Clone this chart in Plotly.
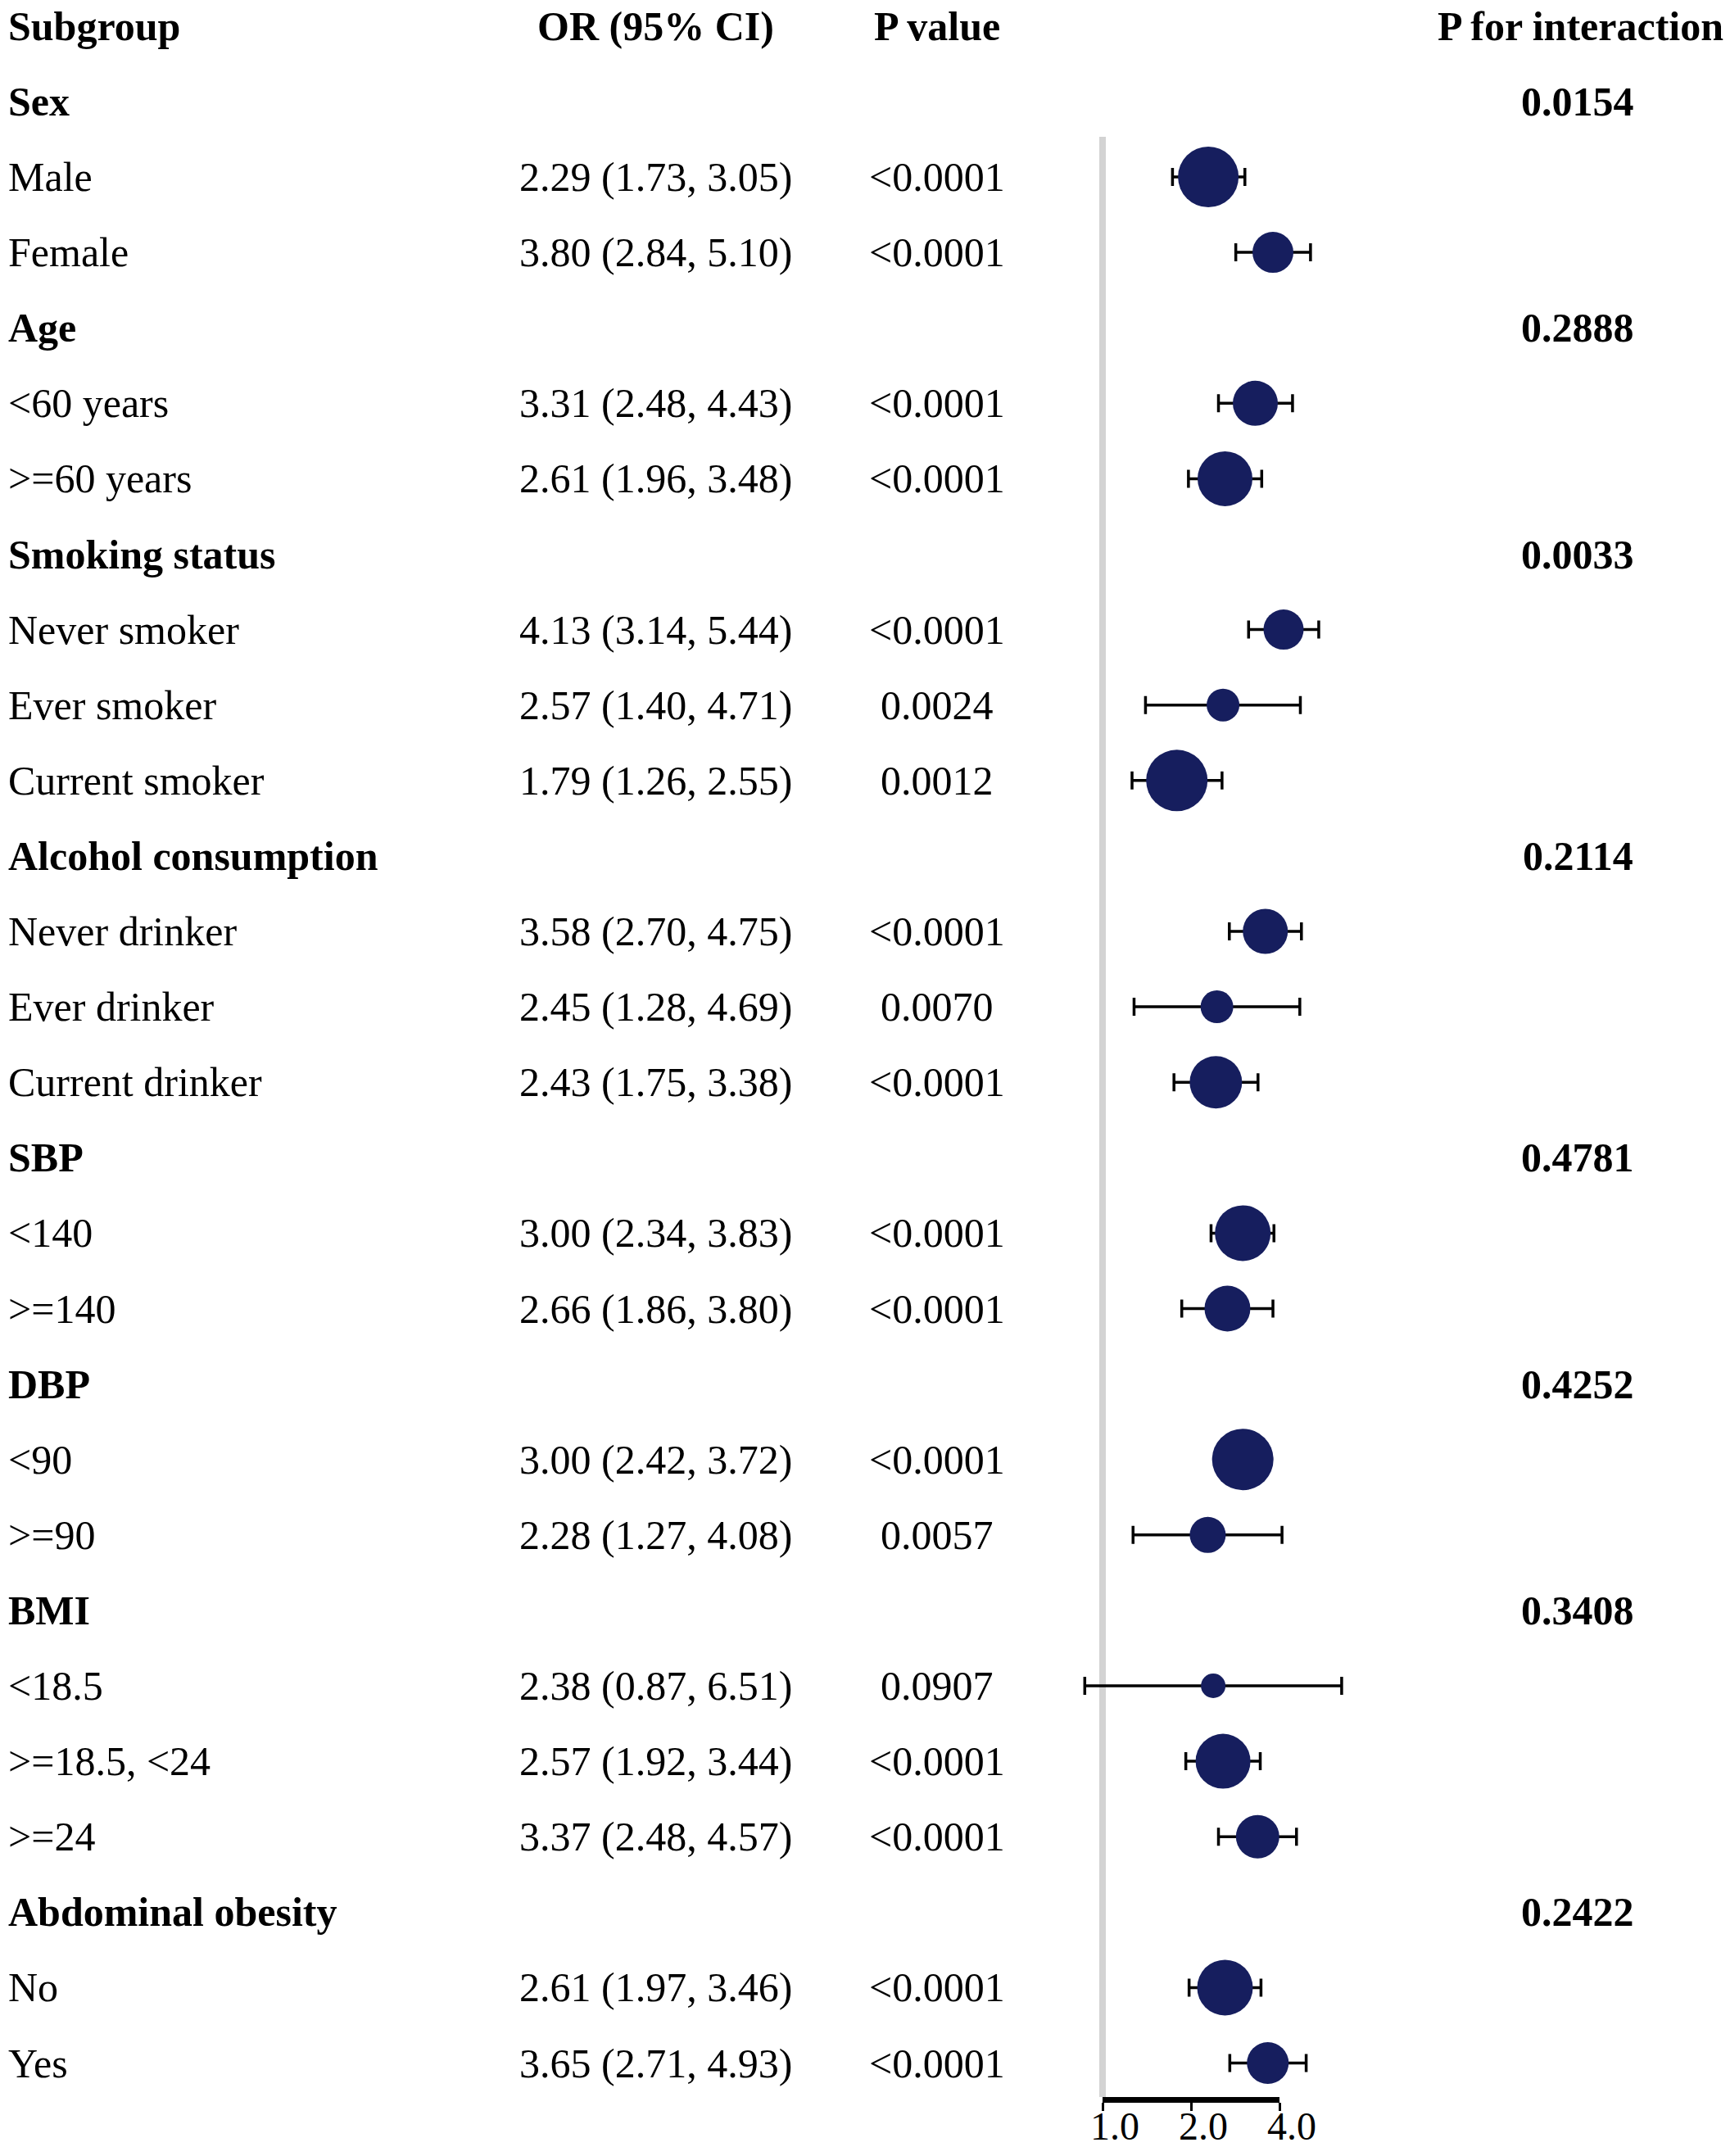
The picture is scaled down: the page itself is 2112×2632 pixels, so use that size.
import math
import plotly.graph_objects as go

# ---------------- data ----------------
labels = ["Sex", "Male", "Female",
          "Age", "<60 years", ">=60 years",
          "Smoking status", "Never smoker", "Ever smoker", "Current smoker",
          "Alcohol consumption", "Never drinker", "Ever drinker", "Current drinker",
          "SBP", "<140", ">=140",
          "DBP", "<90", ">=90",
          "BMI", "<18.5", ">=18.5, <24", ">=24",
          "Abdominal obesity", "No", "Yes"]
is_group = [True, False, False,
            True, False, False,
            True, False, False, False,
            True, False, False, False,
            True, False, False,
            True, False, False,
            True, False, False, False,
            True, False, False]
or_vals = [None, 2.29, 3.80,
           None, 3.31, 2.61,
           None, 4.13, 2.57, 1.79,
           None, 3.58, 2.45, 2.43,
           None, 3.00, 2.66,
           None, 3.00, 2.28,
           None, 2.38, 2.57, 3.37,
           None, 2.61, 3.65]
ci_low = [None, 1.73, 2.84,
          None, 2.48, 1.96,
          None, 3.14, 1.40, 1.26,
          None, 2.70, 1.28, 1.75,
          None, 2.34, 1.86,
          None, 2.42, 1.27,
          None, 0.87, 1.92, 2.48,
          None, 1.97, 2.71]
ci_high = [None, 3.05, 5.10,
           None, 4.43, 3.48,
           None, 5.44, 4.71, 2.55,
           None, 4.75, 4.69, 3.38,
           None, 3.83, 3.80,
           None, 3.72, 4.08,
           None, 6.51, 3.44, 4.57,
           None, 3.46, 4.93]
p_values = ["", "<0.0001", "<0.0001",
            "", "<0.0001", "<0.0001",
            "", "<0.0001", "0.0024", "0.0012",
            "", "<0.0001", "0.0070", "<0.0001",
            "", "<0.0001", "<0.0001",
            "", "<0.0001", "0.0057",
            "", "0.0907", "<0.0001", "<0.0001",
            "", "<0.0001", "<0.0001"]
p_interaction = ["0.0154", "", "",
                 "0.2888", "", "",
                 "0.0033", "", "", "",
                 "0.2114", "", "", "",
                 "0.4781", "", "",
                 "0.4252", "", "",
                 "0.3408", "", "", "",
                 "0.2422", "", ""]
# marker diameters (weights)
weights = [None, 74, 50,
           None, 55, 67,
           None, 49, 40, 75,
           None, 55, 40, 64,
           None, 68, 56,
           None, 75, 44,
           None, 30, 67, 53,
           None, 68, 51]
headers = ["Subgroup", "OR (95% CI)", "P value", "P for interaction"]
axis_ticks = [1, 2, 4]
axis_ticktext = ["1.0", "2.0", "4.0"]
ref_line_or = 1.0

# ---------------- layout constants ----------------
W, H = 2112, 2632
FONT = "Liberation Serif"
FS = 50
NAVY = "#161e5e"
ROW0_PX = 31.8
ROW_PX = 92.1
PX_PER_DEC = 358.8
X1_PX = 1346.0

x_lo = -X1_PX / PX_PER_DEC
x_hi = x_lo + W / PX_PER_DEC
y_top = -ROW0_PX / ROW_PX
y_bot = (H - ROW0_PX) / ROW_PX

def esc(s):
    return s.replace("<", "&lt;").replace(">", "&gt;")

rows = list(range(1, len(labels) + 1))

pts_x, pts_y, e_plus, e_minus, sizes = [], [], [], [], []
for i, r in enumerate(rows):
    if or_vals[i] is None:
        continue
    pts_x.append(or_vals[i])
    pts_y.append(r)
    e_plus.append(ci_high[i] - or_vals[i])
    e_minus.append(or_vals[i] - ci_low[i])
    sizes.append(weights[i])

fig = go.Figure()
fig.add_trace(go.Scatter(
    x=pts_x, y=pts_y, mode="markers",
    marker=dict(size=sizes, color=NAVY, line=dict(width=0), opacity=1),
    error_x=dict(type="data", symmetric=False, array=e_plus, arrayminus=e_minus,
                 color="black", thickness=3.5, width=11),
    cliponaxis=False, showlegend=False, hoverinfo="skip",
))
# invisible trace that carries the short bottom axis
fig.add_trace(go.Scatter(x=[axis_ticks[0], axis_ticks[-1]], y=[y_bot, y_bot],
                         xaxis="x2", yaxis="y", mode="markers",
                         marker=dict(opacity=0), showlegend=False, hoverinfo="skip"))

ann = []
col_x = {"sub": 8 / W, "or": 800 / W, "p": 1144 / W, "pi": 1926 / W}
hdr_pos = [(col_x["sub"], "left"), (col_x["or"], "center"), (col_x["p"], "center"), (1929 / W, "center")]
for h, (xp, anc) in zip(headers, hdr_pos):
    ann.append(dict(x=xp, y=0, xref="paper", yref="y", xanchor=anc, yanchor="middle",
                    text="<b>" + esc(h) + "</b>", showarrow=False))
for i, r in enumerate(rows):
    lab = esc(labels[i])
    ann.append(dict(x=col_x["sub"], y=r, xref="paper", yref="y", xanchor="left", yanchor="middle",
                    text=("<b>" + lab + "</b>") if is_group[i] else lab, showarrow=False))
    if or_vals[i] is not None:
        txt = f"{or_vals[i]:.2f} ({ci_low[i]:.2f}, {ci_high[i]:.2f})"
        ann.append(dict(x=col_x["or"], y=r, xref="paper", yref="y", xanchor="center", yanchor="middle",
                        text=txt, showarrow=False))
    if p_values[i]:
        ann.append(dict(x=col_x["p"], y=r, xref="paper", yref="y", xanchor="center", yanchor="middle",
                        text=esc(p_values[i]), showarrow=False))
    if p_interaction[i]:
        ann.append(dict(x=col_x["pi"], y=r, xref="paper", yref="y", xanchor="center", yanchor="middle",
                        text="<b>" + p_interaction[i] + "</b>", showarrow=False))

axis_y_px = 2563
fig.update_layout(
    width=W, height=H, autosize=False,
    margin=dict(l=0, r=0, t=0, b=0, pad=0, autoexpand=False),
    paper_bgcolor="white", plot_bgcolor="rgba(0,0,0,0)",
    font=dict(family=FONT, size=FS, color="black"),
    annotations=ann,
    xaxis=dict(type="log", range=[x_lo, x_hi], domain=[0, 1], visible=False, fixedrange=True),
    xaxis2=dict(type="log", range=[0, math.log10(axis_ticks[-1])],
                domain=[X1_PX / W, (X1_PX + PX_PER_DEC * math.log10(axis_ticks[-1])) / W],
                anchor="free", position=1 - axis_y_px / H, automargin=False,
                showline=True, linewidth=7, linecolor="black",
                ticks="outside", ticklen=10, tickwidth=3, tickcolor="black",
                tickvals=axis_ticks, ticktext=axis_ticktext, ticklabelshift=15,
                ticklabelstandoff=-23,
                tickfont=dict(family=FONT, size=48, color="black"),
                showgrid=False, zeroline=False, fixedrange=True),
    yaxis=dict(range=[y_bot, y_top], domain=[0, 1], visible=False, fixedrange=True),
    shapes=[dict(type="line", xref="x", yref="paper", x0=ref_line_or, x1=ref_line_or,
                 y0=1 - 167 / H, y1=1 - 2560 / H, layer="below",
                 line=dict(color="#d3d3d3", width=8))],
)

fig.write_html("out.html", config={"displayModeBar": False, "responsive": False},
               post_script="document.body.style.margin='0';document.body.style.overflow='hidden';")
